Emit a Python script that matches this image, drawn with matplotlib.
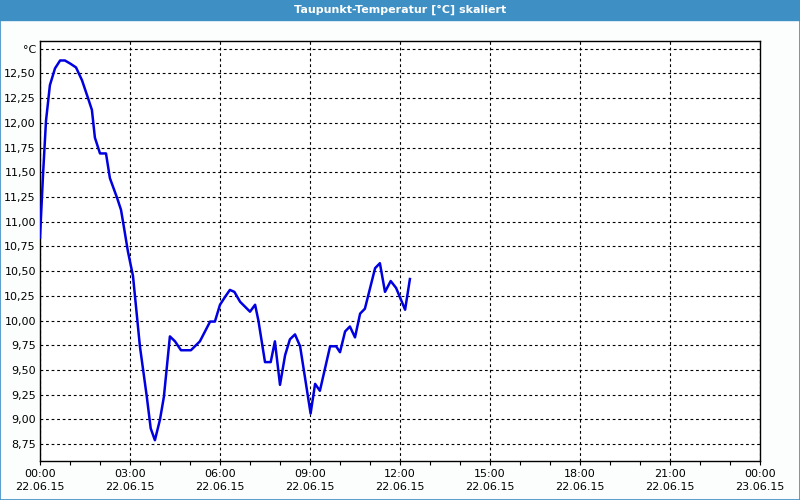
import matplotlib.pyplot as plt
from matplotlib.patches import Rectangle

# hours after 22.06.15 00:00 and dew point in °C
hours = [0.0, 0.1, 0.2, 0.33, 0.5, 0.67, 0.83, 1.0, 1.2, 1.4, 1.6, 1.73, 1.83, 2.0,
         2.2, 2.33, 2.57, 2.7, 2.8, 2.93, 3.1, 3.33, 3.56, 3.69, 3.83, 4.0,
         4.13, 4.33, 4.5, 4.7, 5.03, 5.33, 5.67, 5.83, 6.0, 6.17, 6.33, 6.48, 6.67,
         7.0, 7.17, 7.28, 7.5, 7.69, 7.83, 8.0, 8.17, 8.33, 8.5, 8.67, 8.83, 9.02,
         9.17, 9.33, 9.67, 9.87, 10.0, 10.17, 10.33, 10.5, 10.67, 10.83, 11.17,
         11.33, 11.5, 11.69, 11.87, 12.17, 12.33]
dewpoint = [10.84, 11.47, 12.02, 12.38, 12.55, 12.63, 12.63, 12.60, 12.56, 12.43,
            12.25, 12.13, 11.85, 11.69, 11.69, 11.44, 11.24, 11.12, 10.94, 10.70,
            10.45, 9.74, 9.23, 8.91, 8.79, 9.00, 9.23, 9.84, 9.79, 9.70,
            9.70, 9.79, 9.99, 9.99, 10.16, 10.24, 10.31, 10.29, 10.19, 10.09, 10.16,
            10.00, 9.58, 9.58, 9.79, 9.35, 9.65, 9.81, 9.86, 9.74, 9.43, 9.06, 9.36,
            9.29, 9.74, 9.74, 9.68, 9.89, 9.94, 9.83, 10.07, 10.12, 10.53, 10.58,
            10.29, 10.40, 10.33, 10.11, 10.42]

xticks = list(range(0, 25, 3))
xlabels = ['00:00\n22.06.15', '03:00\n22.06.15', '06:00\n22.06.15', '09:00\n22.06.15',
           '12:00\n22.06.15', '15:00\n22.06.15', '18:00\n22.06.15', '21:00\n22.06.15',
           '00:00\n23.06.15']
yticks = [8.75, 9.0, 9.25, 9.5, 9.75, 10.0, 10.25, 10.5, 10.75, 11.0, 11.25, 11.5,
          11.75, 12.0, 12.25, 12.5, 12.75]
ylabels = [f'{v:.2f}'.replace('.', ',') for v in yticks[:-1]] + ['°C']

bar_blue = '#3d8fc4'

fig = plt.figure(figsize=(8, 5), dpi=100, facecolor='#fcfefd')
fig.patches.append(Rectangle((0, 0.96), 1, 0.04, transform=fig.transFigure,
                             color=bar_blue, zorder=0))
fig.patches.append(Rectangle((0.0006, 0.001), 0.9988, 0.998, transform=fig.transFigure,
                             fill=False, edgecolor=bar_blue, lw=1.2, zorder=1))
fig.text(0.5, 0.98, 'Taupunkt-Temperatur [°C] skaliert', color='white',
         fontsize=8, fontweight='bold', ha='center', va='center')

ax = fig.add_axes([0.05, 0.078, 0.90, 0.8406])
ax.set_facecolor('white')
ax.plot(hours, dewpoint, color='#0000e0', lw=1.8, zorder=3)

ax.set_xlim(0, 24)
ax.set_ylim(8.58, 12.83)
ax.set_xticks(xticks)
ax.set_xticklabels(xlabels, fontsize=8, linespacing=1.35)
ax.set_xticks(range(0, 25), minor=True)
ax.set_yticks(yticks)
ax.set_yticklabels(ylabels, fontsize=8)

ax.tick_params(axis='x', which='both', direction='out', length=3, width=0.8, pad=3)
ax.tick_params(axis='y', length=0, pad=3)
ax.grid(True, which='major', color='black', ls=(0, (2.5, 2.5)), lw=0.8)
for s in ax.spines.values():
    s.set_linewidth(1.0)

fig.savefig('out.png', dpi=100, facecolor=fig.get_facecolor())
